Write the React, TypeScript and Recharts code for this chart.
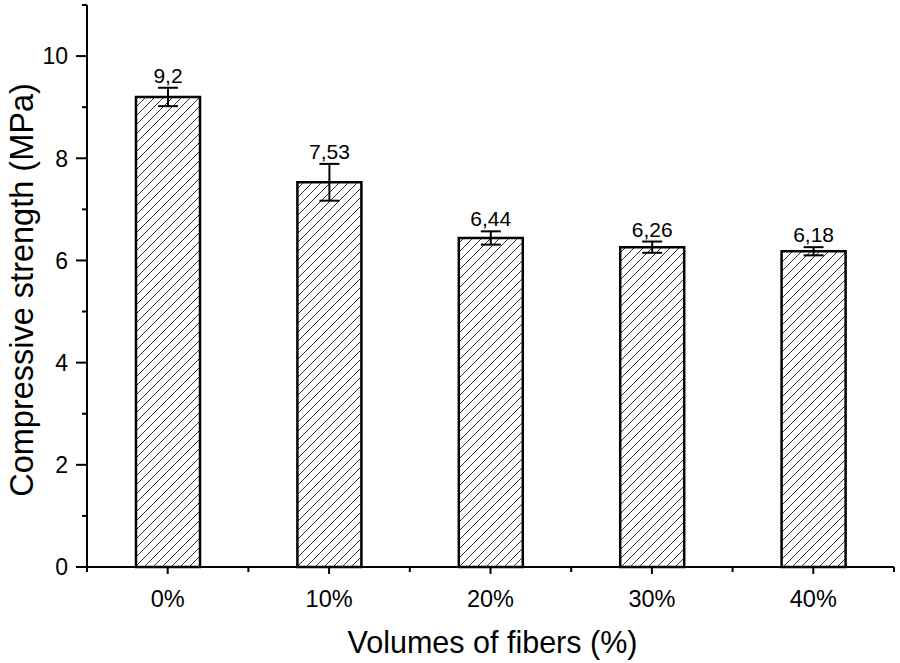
import React from 'react';
import { BarChart, Bar, XAxis, YAxis, ErrorBar, LabelList, Label } from 'recharts';

const categories = ['0%', '10%', '20%', '30%', '40%'];
const strength = [9.2, 7.53, 6.44, 6.26, 6.18];
const errors = [0.18, 0.36, 0.13, 0.11, 0.08];
const valueLabels = ['9,2', '7,53', '6,44', '6,26', '6,18'];
const yTicks = [0, 1, 2, 3, 4, 5, 6, 7, 8, 9, 10, 11];

const W = 900;
const H = 663;
const MARGIN = { top: 5, right: 6, left: 0, bottom: 0 };
const Y_AXIS_W = 87;
const X_AXIS_H = 96;
const PLOT_W = W - MARGIN.left - MARGIN.right - Y_AXIS_W;
const BAND = PLOT_W / categories.length;
const FONT = '"Liberation Sans", Arial, sans-serif';

const data = categories.map((c, i) => ({ name: c, value: strength[i], err: errors[i] }));

function YTick(props: any) {
  const { x, y, payload } = props;
  const major = payload.value % 2 === 0 && payload.value <= 10;
  const len = major ? 11 : 5;
  return (
    <g>
      <line x1={x} x2={x - len} y1={y} y2={y} stroke="#000" strokeWidth={2} />
      {major && (
        <text x={x - len - 8} y={y} dy="0.36em" textAnchor="end" fontSize={23} fontFamily={FONT} fill="#000">
          {payload.value}
        </text>
      )}
    </g>
  );
}

function XTick(props: any) {
  const { x, y, payload, index } = props;
  const last = index === categories.length - 1;
  return (
    <g>
      <line x1={x} x2={x} y1={y} y2={y + 7} stroke="#000" strokeWidth={2} />
      <line x1={x - BAND / 2} x2={x - BAND / 2} y1={y} y2={y + 5} stroke="#000" strokeWidth={2} />
      {last && <line x1={x + BAND / 2} x2={x + BAND / 2} y1={y} y2={y + 5} stroke="#000" strokeWidth={2} />}
      <text x={x} y={y + 40} textAnchor="middle" fontSize={23.5} fontFamily={FONT} fill="#000">
        {payload.value}
      </text>
    </g>
  );
}

function ValueLabel(props: any) {
  const { x, y, width, height, value, index } = props;
  const errPx = (errors[index] * height) / value;
  return (
    <text x={x + width / 2} y={y - errPx - 5} textAnchor="middle" fontSize={21} fontFamily={FONT} fill="#000">
      {valueLabels[index]}
    </text>
  );
}

export default function App() {
  return (
    <div style={{ position: 'absolute', left: 0, top: 0, width: W, height: H, background: '#fff' }}>
      <BarChart width={W} height={H} data={data} margin={MARGIN}>
        <defs>
          <pattern id="hatch" patternUnits="userSpaceOnUse" width={9} height={9}>
            <path d="M-1,1 l2,-2 M0,9 l9,-9 M8,10 l2,-2" stroke="#333" strokeWidth={1} />
          </pattern>
        </defs>
        <XAxis
          dataKey="name"
          height={X_AXIS_H}
          axisLine={{ stroke: '#000', strokeWidth: 2 }}
          tickLine={false}
          tickSize={0}
          tickMargin={0}
          tick={<XTick />}
          interval={0}
        >
          <Label
            content={(p: any) => {
              const vb = p.viewBox;
              return (
                <text x={vb.x + vb.width / 2 + 2} y={vb.y + 86} textAnchor="middle" fontSize={30.5} fontFamily={FONT} fill="#000">
                  Volumes of fibers (%)
                </text>
              );
            }}
          />
        </XAxis>
        <XAxis
          xAxisId="top"
          dataKey="name"
          orientation="top"
          height={0}
          tick={false}
          tickLine={false}
          axisLine={{ stroke: '#000', strokeWidth: 2 }}
        />
        <YAxis
          width={Y_AXIS_W}
          domain={[0, 11]}
          ticks={yTicks}
          interval={0}
          axisLine={{ stroke: '#000', strokeWidth: 2 }}
          tickLine={false}
          tickSize={0}
          tickMargin={0}
          tick={<YTick />}
        >
          <Label
            content={(p: any) => {
              const vb = p.viewBox;
              const cx = 22;
              const cy = vb.y + vb.height / 2 + 4;
              return (
                <text
                  x={cx}
                  y={cy}
                  transform={`rotate(-90, ${cx}, ${cy})`}
                  textAnchor="middle"
                  dominantBaseline="central"
                  fontSize={32.5}
                  fontFamily={FONT}
                  fill="#000"
                >
                  Compressive strength (MPa)
                </text>
              );
            }}
          />
        </YAxis>
        <YAxis
          yAxisId="right"
          orientation="right"
          width={0}
          domain={[0, 11]}
          tick={false}
          tickLine={false}
          axisLine={{ stroke: '#000', strokeWidth: 2 }}
        />
        <Bar dataKey="value" barSize={64} fill="url(#hatch)" stroke="#000" strokeWidth={2.5} isAnimationActive={false}>
          <ErrorBar dataKey="err" width={10} stroke="#000" strokeWidth={2} direction="y" />
          <LabelList dataKey="value" content={<ValueLabel />} />
        </Bar>
      </BarChart>
    </div>
  );
}
